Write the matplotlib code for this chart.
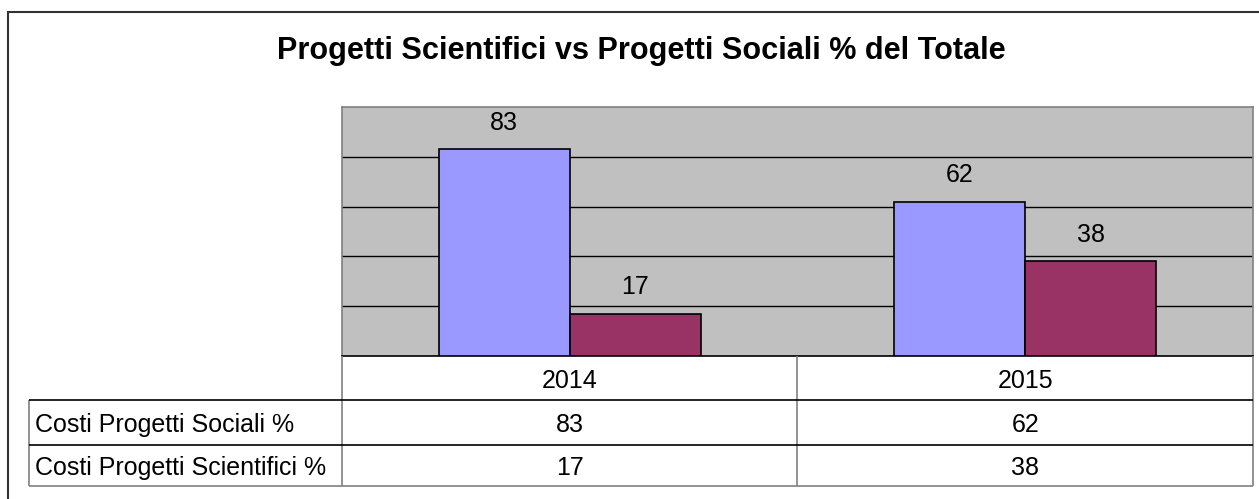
import numpy as np
import matplotlib.pyplot as plt
from matplotlib.patches import Rectangle

plt.rcParams['font.family'] = ['Liberation Sans', 'DejaVu Sans']

years = ['2014', '2015']
series_names = ['Costi Progetti Sociali %', 'Costi Progetti Scientifici %']
sociali = [83, 62]
scientifici = [17, 38]
colors = ['#9999FF', '#993366']

W, H = 1259, 499
fig = plt.figure(figsize=(W / 100, H / 100), dpi=100)

# outer frame (runs off the right and bottom edges)
fig.patches.append(Rectangle((8 / W, -0.1), 1.2, 1 - 12 / H + 0.1, transform=fig.transFigure,
                             fill=False, edgecolor='#333333', lw=1.5))

fig.text(641 / W, 1 - 59.5 / H, 'Progetti Scientifici vs Progetti Sociali % del Totale',
         ha='center', va='baseline', fontsize=22.1, fontweight='bold')

# plot area
left, right, top, bottom = 342, 1253, 107, 356
ax = fig.add_axes([left / W, 1 - bottom / H, (right - left) / W, (bottom - top) / H])
ax.set_facecolor('#C0C0C0')
x = np.arange(len(years))
w = 0.288
b1 = ax.bar(x - w / 2, sociali, w, color=colors[0], edgecolor='black', lw=1.2, zorder=3)
b2 = ax.bar(x + w / 2, scientifici, w, color=colors[1], edgecolor='black', lw=1.2, zorder=3)
ax.bar_label(b1, padding=10.5, fontsize=18)
ax.bar_label(b2, padding=10.5, fontsize=18)
ax.set_xlim(-0.5, len(years) - 0.5)
ax.set_ylim(0, 100)
ax.set_yticks([20, 40, 60, 80])
ax.set_xticks([])
ax.yaxis.grid(True, color='black', lw=1)
ax.set_axisbelow(True)
ax.tick_params(length=0, labelleft=False)
for s in ax.spines.values():
    s.set_color('#808080')
    s.set_linewidth(1.2)
ax.spines['bottom'].set_color('black')

# data table below the plot, in pixel-like coordinates
t_left, t_bottom = 29, 486
tax = fig.add_axes([0, 0, 1, 1], facecolor='none')
tax.set_xlim(0, W)
tax.set_ylim(H, 0)
tax.axis('off')
col_edges = [left, (left + right) / 2, right]
row_edges = [bottom, 400, 445, t_bottom]
gray = '#808080'
tax.vlines(col_edges, bottom, t_bottom, color=gray, lw=1.2)
tax.vlines(t_left, row_edges[1], t_bottom, color=gray, lw=1.2)
tax.hlines(row_edges[1:3], t_left, right, color='black', lw=1.2)
tax.hlines(t_bottom, t_left, right, color=gray, lw=1.2)

centers = [(col_edges[i] + col_edges[i + 1]) / 2 for i in range(len(years))]
row_mid = [(row_edges[i] + row_edges[i + 1]) / 2 for i in range(3)]
for cx, yr in zip(centers, years):
    tax.text(cx, row_mid[0], yr, ha='center', va='center_baseline', fontsize=18)
for ri, (name, vals) in enumerate(zip(series_names, [sociali, scientifici]), start=1):
    tax.text(t_left + 6, row_mid[ri], name, ha='left', va='center_baseline', fontsize=18)
    for cx, v in zip(centers, vals):
        tax.text(cx, row_mid[ri], str(v), ha='center', va='center_baseline', fontsize=18)

fig.savefig('out.png', dpi=100)
